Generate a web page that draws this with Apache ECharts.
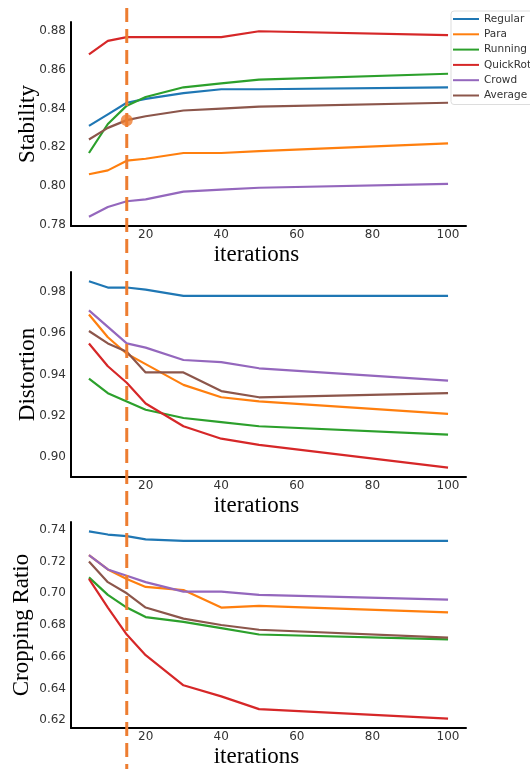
<!DOCTYPE html>
<html>
<head>
<meta charset="utf-8">
<script src="https://cdn.jsdelivr.net/npm/echarts@6/dist/echarts.min.js"></script>
<style>
  html, body { margin: 0; padding: 0; background: #fff; }
  #chart { width: 530px; height: 769px; }
</style>
</head>
<body>
<div id="chart"></div>
<script>
const iterations = [5, 10, 15, 20, 30, 40, 50, 100]
const methods = ['Regular', 'Para', 'Running', 'QuickRot', 'Crowd', 'Average']
const colors = ['#1f77b4', '#ff7f0e', '#2ca02c', '#d62728', '#9467bd', '#8c564b']

// Stability
const stabRegular = [0.831, 0.837, 0.843, 0.845, 0.848, 0.850, 0.850, 0.851]
const stabPara = [0.806, 0.808, 0.813, 0.814, 0.817, 0.817, 0.818, 0.822]
const stabRunning = [0.817, 0.832, 0.8415, 0.846, 0.851, 0.853, 0.855, 0.858]
const stabQuickRot = [0.868, 0.875, 0.877, 0.877, 0.877, 0.877, 0.880, 0.878]
const stabCrowd = [0.784, 0.789, 0.792, 0.793, 0.797, 0.798, 0.799, 0.801]
const stabAverage = [0.824, 0.830, 0.834, 0.836, 0.839, 0.840, 0.841, 0.843]

// Distortion
const distRegular = [0.985, 0.982, 0.982, 0.981, 0.978, 0.978, 0.978, 0.978]
const distPara = [0.969, 0.958, 0.950, 0.945, 0.935, 0.929, 0.927, 0.921]
const distRunning = [0.938, 0.931, 0.927, 0.923, 0.919, 0.917, 0.915, 0.911]
const distQuickRot = [0.955, 0.944, 0.936, 0.926, 0.915, 0.909, 0.906, 0.895]
const distCrowd = [0.971, 0.963, 0.955, 0.953, 0.947, 0.946, 0.943, 0.937]
const distAverage = [0.961, 0.955, 0.951, 0.941, 0.941, 0.932, 0.929, 0.931]

// Cropping Ratio
const cropRegular = [0.739, 0.737, 0.736, 0.734, 0.733, 0.733, 0.733, 0.733]
const cropPara = [0.724, 0.715, 0.709, 0.704, 0.702, 0.691, 0.692, 0.688]
const cropRunning = [0.710, 0.699, 0.691, 0.685, 0.682, 0.678, 0.674, 0.671]
const cropQuickRot = [0.709, 0.691, 0.674, 0.661, 0.642, 0.635, 0.627, 0.621]
const cropCrowd = [0.724, 0.715, 0.711, 0.707, 0.701, 0.701, 0.699, 0.696]
const cropAverage = [0.720, 0.707, 0.700, 0.691, 0.684, 0.680, 0.677, 0.672]

// tick labels
const xTicks = [20, 40, 60, 80, 100]
const stabTicks = [0.78, 0.80, 0.82, 0.84, 0.86, 0.88]
const distTicks = [0.90, 0.92, 0.94, 0.96, 0.98]
const cropTicks = [0.62, 0.64, 0.66, 0.68, 0.70, 0.72, 0.74]

// selected iteration and its marker
const chosenIter = 15
const chosenValue = 0.834

const panels = [
  { name: 'Stability', data: [stabRegular, stabPara, stabRunning, stabQuickRot, stabCrowd, stabAverage], ticks: stabTicks, min: 0.7792, max: 0.8848, gap: 32 },
  { name: 'Distortion', data: [distRegular, distPara, distRunning, distQuickRot, distCrowd, distAverage], ticks: distTicks, min: 0.8905, max: 0.9895, gap: 32 },
  { name: 'Cropping Ratio', data: [cropRegular, cropPara, cropRunning, cropQuickRot, cropCrowd, cropAverage], ticks: cropTicks, min: 0.6151, max: 0.7449, gap: 38 }
]
const gridTops = [22, 272, 522]
const gridHeights = [204, 205, 206]

const tickFont = { fontFamily: 'DejaVu Sans', fontSize: 12, color: '#333' }
const nameFont = { fontFamily: 'Liberation Serif', fontSize: 23, color: '#000' }

let grid = []
let xAxis = []
let yAxis = []
let series = []
panels.forEach((p, i) => {
  grid.push({ left: 71, right: 64, top: gridTops[i], height: gridHeights[i] })
  xAxis.push({
    type: 'value',
    gridIndex: i,
    min: 0.25,
    max: 104.75,
    name: 'iterations',
    nameLocation: 'middle',
    nameGap: 17,
    nameMoveOverlap: false,
    nameTextStyle: Object.assign({ verticalAlign: 'top', padding: [0, 24, 0, 0] }, nameFont),
    axisLine: { show: true, onZero: false, lineStyle: { color: '#000', width: 2 } },
    axisTick: { show: false },
    splitLine: { show: false },
    axisLabel: Object.assign({ customValues: xTicks, margin: 3 }, tickFont)
  })
  yAxis.push({
    type: 'value',
    gridIndex: i,
    min: p.min,
    max: p.max,
    name: p.name,
    nameLocation: 'middle',
    nameGap: p.gap,
    nameMoveOverlap: false,
    nameTextStyle: nameFont,
    axisLine: { show: true, lineStyle: { color: '#000', width: 2 } },
    axisTick: { show: false },
    splitLine: { show: false },
    axisLabel: Object.assign({ customValues: p.ticks, margin: 5, formatter: v => v.toFixed(2) }, tickFont)
  })
  p.data.forEach((vals, k) => {
    series.push({
      name: methods[k],
      type: 'line',
      xAxisIndex: i,
      yAxisIndex: i,
      data: iterations.map((x, j) => [x, vals[j]]),
      showSymbol: false,
      symbol: 'none',
      silent: true,
      color: colors[k],
      lineStyle: { width: 2.2, color: colors[k] },
      z: 2 + k
    })
  })
})

series.push({
  type: 'scatter',
  xAxisIndex: 0,
  yAxisIndex: 0,
  data: [[chosenIter, chosenValue]],
  symbolSize: 12,
  itemStyle: { color: '#ed7d31' },
  z: 40
})

const chart = echarts.init(document.getElementById('chart'))
chart.setOption({
  animation: false,
  grid: grid,
  xAxis: xAxis,
  yAxis: yAxis,
  legend: {
    data: methods,
    orient: 'vertical',
    left: 451,
    top: 11,
    padding: [2, 6, 3, 2],
    itemWidth: 26,
    itemHeight: 2,
    itemGap: 3.3,
    icon: 'rect',
    borderColor: '#ddd',
    borderWidth: 1,
    borderRadius: 3,
    textStyle: { fontFamily: 'DejaVu Sans', fontSize: 10.5, color: '#333', lineHeight: 12 }
  },
  series: series
})

// vertical dashed marker across all panels
const xPx = chart.convertToPixel({ gridIndex: 0 }, [chosenIter, chosenValue])[0]
chart.setOption({
  graphic: [{
    type: 'line',
    z: 30,
    shape: { x1: xPx, y1: 8, x2: xPx, y2: 769 },
    style: { stroke: '#ed7d31', lineWidth: 3, lineDash: [14, 7] }
  }]
})
</script>
</body>
</html>
